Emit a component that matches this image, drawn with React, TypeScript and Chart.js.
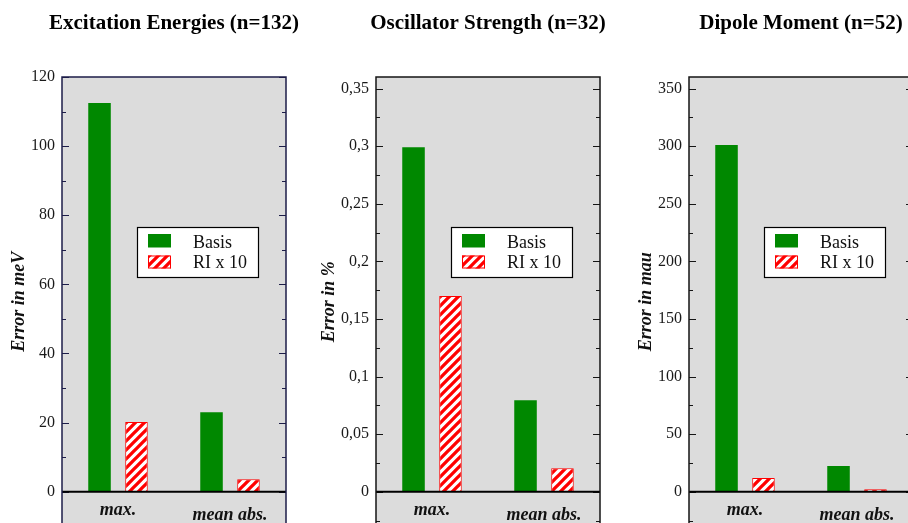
import React, { useEffect, useRef } from 'react';
import { Chart, registerables } from 'chart.js';

Chart.register(...registerables);

// ---------------- data ----------------
const categories = ['max.', 'mean abs.'];
const seriesNames = ['Basis', 'RI x 10'];

const excitationTitle = 'Excitation Energies (n=132)';
const excitationAxisTitle = 'Error in meV';
const excitationBasis = [112.5, 23];
const excitationRI = [20.2, 3.6];
const excitationTicks = [0, 20, 40, 60, 80, 100, 120];
const excitationTickLabels = ['0', '20', '40', '60', '80', '100', '120'];
const excitationRange = [-10, 120];

const oscillatorTitle = 'Oscillator Strength (n=32)';
const oscillatorAxisTitle = 'Error in %';
const oscillatorBasis = [0.299, 0.0795];
const oscillatorRI = [0.17, 0.0203];
const oscillatorTicks = [0, 0.05, 0.1, 0.15, 0.2, 0.25, 0.3, 0.35];
const oscillatorTickLabels = ['0', '0,05', '0,1', '0,15', '0,2', '0,25', '0,3', '0,35'];
const oscillatorRange = [-0.03, 0.36];

const dipoleTitle = 'Dipole Moment (n=52)';
const dipoleAxisTitle = 'Error in mau';
const dipoleBasis = [301, 22.3];
const dipoleRI = [12, 2.2];
const dipoleTicks = [0, 50, 100, 150, 200, 250, 300, 350];
const dipoleTickLabels = ['0', '50', '100', '150', '200', '250', '300', '350'];
const dipoleRange = [-30, 360];

// ---------------- style ----------------
const SERIF = '"Liberation Serif", "Times New Roman", serif';
const GREEN = '#008800';
const RED = '#ff0000';
const PANEL_BG = '#dcdcdc';
const CANVAS_W = 314;
const CANVAS_H = 544;
const AXIS_W = 62;
const PAD_RIGHT = 28;
const PAD_TOP = 77;
const PAD_BOTTOM = 17.7;

function makeHatch(): CanvasPattern | string {
  const s = 9;
  const c = document.createElement('canvas');
  c.width = s;
  c.height = s;
  const g = c.getContext('2d');
  if (!g) return RED;
  g.fillStyle = '#ffffff';
  g.fillRect(0, 0, s, s);
  g.strokeStyle = RED;
  g.lineWidth = 3.3;
  g.beginPath();
  g.moveTo(-2, s + 2);
  g.lineTo(s + 2, -2);
  g.moveTo(-2, 2);
  g.lineTo(2, -2);
  g.moveTo(s - 2, s + 2);
  g.lineTo(s + 2, s - 2);
  g.stroke();
  const p = g.createPattern(c, 'repeat');
  return p || RED;
}

const framePlugin = {
  id: 'frame',
  beforeDraw(chart: any) {
    const { ctx, chartArea: a } = chart;
    ctx.save();
    ctx.fillStyle = PANEL_BG;
    ctx.fillRect(a.left, a.top, a.right - a.left, a.bottom - a.top);
    ctx.restore();
  },
  afterDatasetsDraw(chart: any, _args: any, opts: any) {
    const { ctx, chartArea: a, scales } = chart;
    const y = scales.y;
    const x = scales.x;
    const ticks: number[] = opts.ticks;
    const zero = y.getPixelForValue(0);
    ctx.save();

    // minor + major ticks, inside on both sides
    const step = ticks[1] - ticks[0];
    const minor: number[] = [];
    for (let v = ticks[0] - step / 2; v < ticks[ticks.length - 1] + step; v += step) {
      minor.push(v);
    }
    ctx.strokeStyle = opts.borderColor;
    ctx.lineWidth = 1.2;
    const drawTick = (v: number, len: number) => {
      const py = Math.round(y.getPixelForValue(v)) + 0.5;
      if (py < a.top || py > a.bottom) return;
      ctx.beginPath();
      ctx.moveTo(a.left, py);
      ctx.lineTo(a.left + len, py);
      ctx.moveTo(a.right, py);
      ctx.lineTo(a.right - len, py);
      ctx.stroke();
    };
    ticks.forEach((v) => drawTick(v, 7));
    minor.forEach((v) => drawTick(v, 4));

    // zero line
    ctx.strokeStyle = '#000';
    ctx.lineWidth = 2;
    ctx.beginPath();
    ctx.moveTo(a.left, zero);
    ctx.lineTo(a.right, zero);
    ctx.stroke();

    // frame (left, top, right)
    ctx.strokeStyle = opts.borderColor;
    ctx.lineWidth = 1.5;
    ctx.beginPath();
    ctx.moveTo(a.left, a.bottom + 20);
    ctx.lineTo(a.left, a.top);
    ctx.lineTo(a.right, a.top);
    ctx.lineTo(a.right, a.bottom + 20);
    ctx.stroke();

    // category labels
    ctx.fillStyle = '#111';
    ctx.font = `italic bold 18px ${SERIF}`;
    ctx.textAlign = 'center';
    ctx.textBaseline = 'alphabetic';
    const labelOffsets = [23.5, 28];
    categories.forEach((c, i) => {
      ctx.fillText(c, x.getPixelForValue(i), zero + labelOffsets[i]);
    });

    // legend box
    const lx = a.left + 75;
    const ly = a.top + 150;
    const lw = 121;
    const lh = 50;
    ctx.fillStyle = '#ffffff';
    ctx.fillRect(lx, ly, lw, lh);
    ctx.strokeStyle = '#000';
    ctx.lineWidth = 1.2;
    ctx.strokeRect(Math.round(lx) + 0.5, Math.round(ly) + 0.5, lw, lh);
    ctx.fillStyle = GREEN;
    ctx.fillRect(lx + 11, ly + 7, 23, 13.5);
    ctx.fillStyle = opts.hatch;
    ctx.fillRect(lx + 11, ly + 28.5, 23, 13);
    ctx.strokeStyle = RED;
    ctx.lineWidth = 1;
    ctx.strokeRect(lx + 11.5, ly + 29, 22, 12);
    ctx.fillStyle = '#111';
    ctx.font = `18px ${SERIF}`;
    ctx.textAlign = 'left';
    ctx.fillText(seriesNames[0], lx + 56, ly + 20.5);
    ctx.fillText(seriesNames[1], lx + 56, ly + 41);

    // chart title
    ctx.fillStyle = '#000';
    ctx.font = `bold 21px ${SERIF}`;
    ctx.textAlign = 'center';
    ctx.fillText(opts.title, (a.left + a.right) / 2, 29);
    ctx.restore();
  },
};

type PanelCfg = {
  title: string;
  axisTitle: string;
  basis: number[];
  ri: number[];
  ticks: number[];
  tickLabels: string[];
  range: number[];
  left: number;
  titlePad: number;
  borderColor: string;
};

function Panel({ cfg }: { cfg: PanelCfg }) {
  const ref = useRef<HTMLCanvasElement>(null);
  useEffect(() => {
    if (!ref.current) return;
    const hatch = makeHatch();
    const chart = new Chart(ref.current, {
      type: 'bar',
      data: {
        labels: categories,
        datasets: [
          {
            label: seriesNames[0],
            data: cfg.basis,
            backgroundColor: GREEN,
            borderWidth: 0,
            categoryPercentage: 0.66,
            barPercentage: 0.61,
          },
          {
            label: seriesNames[1],
            data: cfg.ri,
            backgroundColor: hatch as any,
            borderColor: RED,
            borderWidth: 1,
            categoryPercentage: 0.66,
            barPercentage: 0.61,
          },
        ],
      },
      options: {
        responsive: false,
        animation: false,
        devicePixelRatio: 1,
        layout: { padding: { left: 0, right: PAD_RIGHT, top: PAD_TOP, bottom: PAD_BOTTOM } },
        plugins: {
          legend: { display: false },
          tooltip: { enabled: false },
          title: { display: false },
          frame: {
            ticks: cfg.ticks,
            title: cfg.title,
            borderColor: cfg.borderColor,
            hatch,
          },
        } as any,
        scales: {
          x: { type: 'category', display: false },
          y: {
            type: 'linear',
            min: cfg.range[0],
            max: cfg.range[1],
            afterBuildTicks: (scale: any) => {
              scale.ticks = cfg.ticks.map((v) => ({ value: v }));
            },
            afterFit: (scale: any) => {
              scale.width = AXIS_W;
            },
            grid: { display: false, drawTicks: false },
            border: { display: false },
            ticks: {
              padding: 7,
              color: '#1a1a1a',
              font: { family: SERIF, size: 16 },
              callback: (_v: any, i: number) => cfg.tickLabels[i],
            },
            title: {
              display: true,
              text: cfg.axisTitle,
              color: '#111',
              font: { family: SERIF, size: 18, weight: 'bold', style: 'italic' },
              padding: { top: cfg.titlePad, bottom: 0 },
            },
          },
        },
      },
      plugins: [framePlugin],
    });
    return () => chart.destroy();
  }, []);
  return (
    <canvas
      ref={ref}
      width={CANVAS_W}
      height={CANVAS_H}
      style={{ position: 'absolute', left: cfg.left, top: 0, width: CANVAS_W, height: CANVAS_H }}
    />
  );
}

const panels: PanelCfg[] = [
  {
    title: excitationTitle,
    axisTitle: excitationAxisTitle,
    basis: excitationBasis,
    ri: excitationRI,
    ticks: excitationTicks,
    tickLabels: excitationTickLabels,
    range: excitationRange,
    left: 0,
    titlePad: 9,
    borderColor: '#1c1c48',
  },
  {
    title: oscillatorTitle,
    axisTitle: oscillatorAxisTitle,
    basis: oscillatorBasis,
    ri: oscillatorRI,
    ticks: oscillatorTicks,
    tickLabels: oscillatorTickLabels,
    range: oscillatorRange,
    left: 314,
    titlePad: 5,
    borderColor: '#151515',
  },
  {
    title: dipoleTitle,
    axisTitle: dipoleAxisTitle,
    basis: dipoleBasis,
    ri: dipoleRI,
    ticks: dipoleTicks,
    tickLabels: dipoleTickLabels,
    range: dipoleRange,
    left: 627,
    titlePad: 9,
    borderColor: '#151515',
  },
];

export default function App() {
  return (
    <div
      style={{
        position: 'absolute',
        left: 0,
        top: 0,
        width: 908,
        height: 523,
        overflow: 'hidden',
        background: '#ffffff',
      }}
    >
      {panels.map((p, i) => (
        <Panel key={i} cfg={p} />
      ))}
    </div>
  );
}
